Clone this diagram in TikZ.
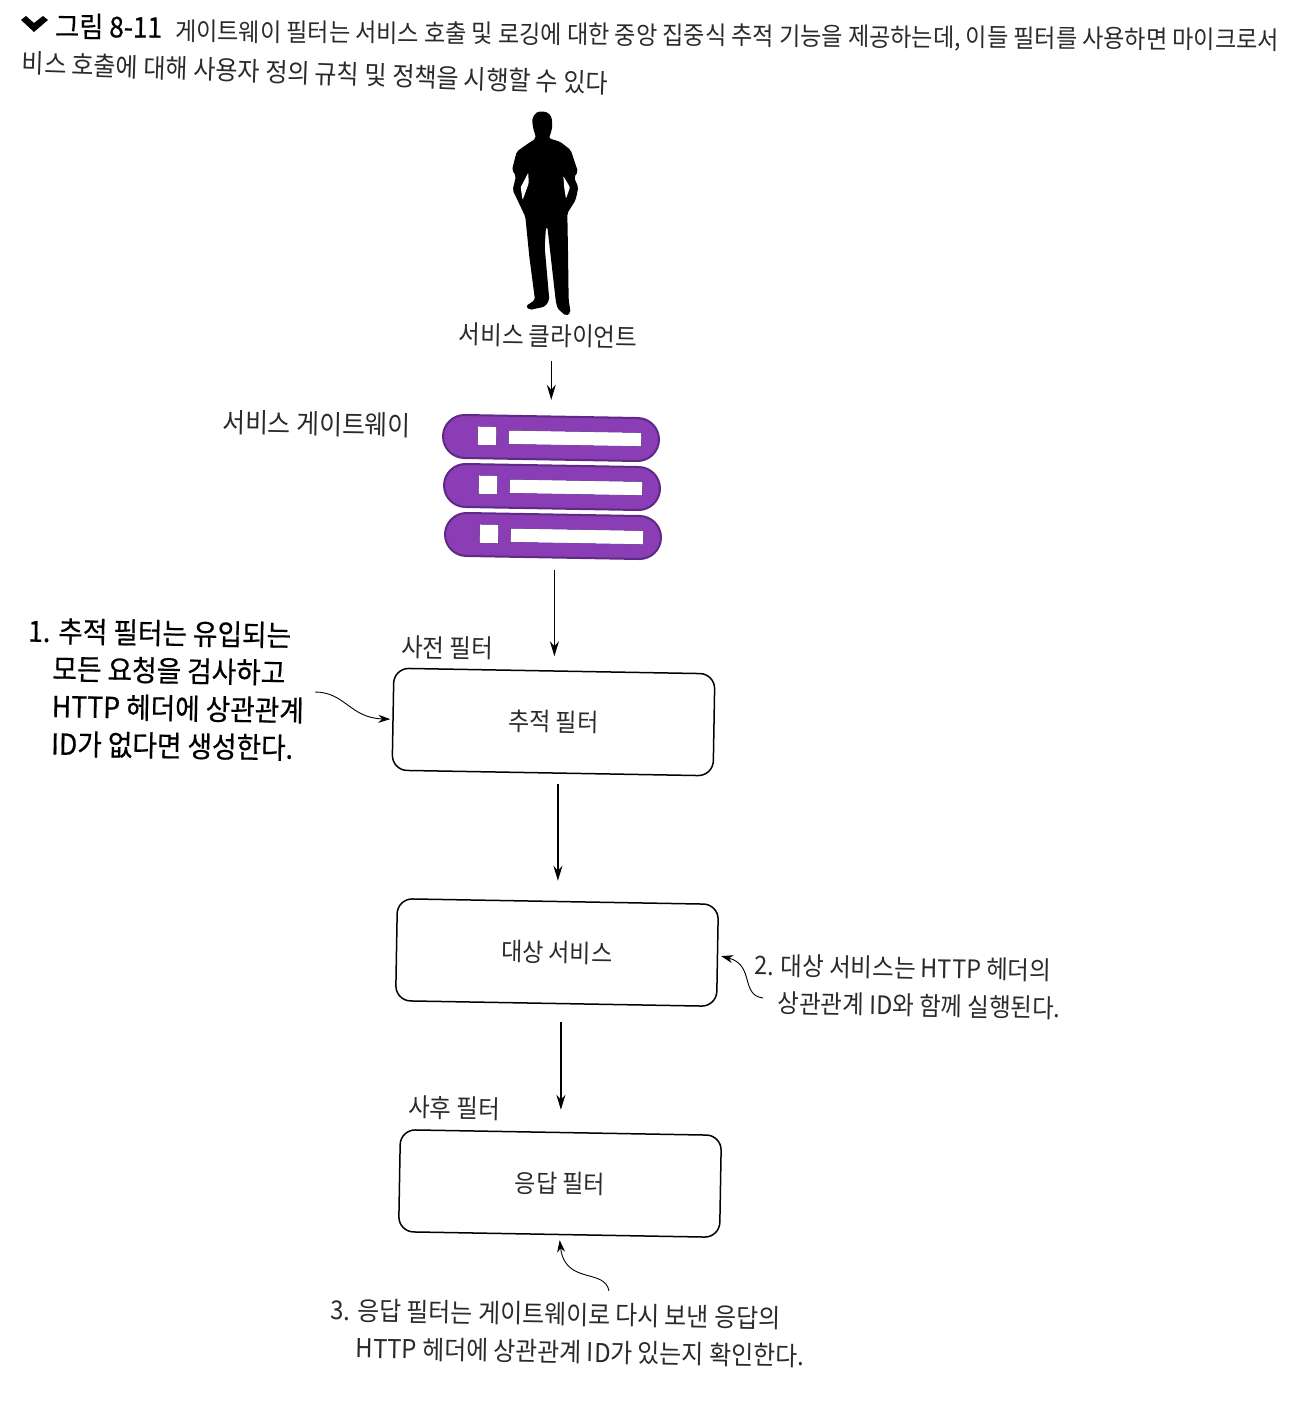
\documentclass[tikz,border=0pt]{standalone}
\usepackage{fontspec}
\setmainfont{Noto Sans CJK KR}[FakeStretch=0.92]
\newfontfamily\darkfont{Noto Sans CJK KR}[FakeStretch=0.92,FakeBold=0.5]
\usetikzlibrary{arrows.meta,shapes.misc}
\definecolor{pillfill}{HTML}{8B3DB5}
\definecolor{pilledge}{HTML}{5E2A85}
\definecolor{inkgray}{HTML}{2A2A2A}
\begin{document}
\begin{tikzpicture}[x=1pt,y=-1pt]
        % Common styles
        \tikzstyle{filterbox}=[draw, rounded corners=15pt, line width=1.5pt, minimum width=321pt, minimum height=102pt, rotate=-1, font=\fontsize{25}{30}\selectfont, text=inkgray]
        \tikzstyle{label}=[rotate=-1, inner sep=0pt, text=inkgray, font=\fontsize{25.5}{30}\selectfont]
        \tikzstyle{note}=[rotate=-1, inner sep=0pt, align=left, anchor=west, text=inkgray, font=\fontsize{25.5}{37.5}\selectfont]
        \tikzstyle{link}=[-{Stealth[length=15pt,width=9pt]}, line width=1.2pt]
        \tikzstyle{notelink}=[-{Stealth[length=12pt,width=8pt]}, line width=0.9pt]
        \tikzstyle{pill}=[rounded rectangle, draw=pilledge, fill=pillfill, line width=2pt, minimum width=216pt, minimum height=43pt, inner sep=0pt]
        \tikzstyle{hole}=[fill=white, draw=pilledge, line width=0.5pt, inner sep=0pt]
        \useasboundingbox (0,0) rectangle (1294,1402);

        % --- Caption ---
        \fill[black] (21,20) -- (26,16) -- (34,23) -- (43,16) -- (48,20) -- (34,32) -- cycle;
        \node[label, anchor=west, rotate=0.5, text=black, font=\darkfont\fontsize{28.5}{30}\selectfont] (captionone) at (55,26) {그림 8-11};
        \node[label, anchor=west, rotate=0.55, font=\fontsize{25.1}{30}\selectfont] (captiontwo) at (175,32.5) {게이트웨이 필터는 서비스 호출 및 로깅에 대한 중앙 집중식 추적 기능을 제공하는데, 이들 필터를 사용하면 마이크로서};
        \node[label, anchor=west, rotate=-1, font=\fontsize{26.2}{30}\selectfont] (captionthree) at (22,63) {비스 호출에 대해 사용자 정의 규칙 및 정책을 시행할 수 있다};

        % --- Client ---
        \begin{scope}[shift={(420,100)}, x=0.3333pt, y=-0.3333pt]
            \fill[black, rounded corners=2pt] (387,115)
                .. controls (392,100) and (398,85) .. (396,65) .. controls (395,45) and (382,35) .. (365,35)
                .. controls (345,35) and (335,55) .. (338,72) .. controls (340,90) and (345,100) .. (348,115)
                -- (325,130) -- (290,155) -- (276,210) -- (288,228) -- (278,270) -- (298,312) -- (316,350)
                -- (328,470) -- (345,600) -- (318,618) -- (328,630) -- (375,620) -- (388,600)
                -- (374,440) -- (378,382) -- (382,380) -- (390,450) -- (407,600) -- (412,625) -- (438,648) -- (452,638)
                -- (446,600) -- (444,450) -- (442,340) -- (467,300) -- (475,262) -- (462,232) -- (474,215)
                -- (452,150) -- (420,125) -- cycle;
            \fill[white, rounded corners=1pt] (325,218) -- (326,250) -- (308,300) -- (302,262) -- cycle;
            \fill[white, rounded corners=1pt] (430,228) -- (450,262) -- (438,296) -- (433,265) -- cycle;
        \end{scope}
        \node[label] (client) at (548,336) {서비스 클라이언트};

        % --- Gateway ---
        \node[label, anchor=east, font=\fontsize{27}{30}\selectfont] (gatewaylabel) at (411,425.5) {서비스 게이트웨이};
        \node[minimum width=216pt, minimum height=146pt, rotate=-1, inner sep=0pt] (gateway) at (550,487) {};
        \foreach \i/\cx/\cy in {1/551/438, 2/552/487, 3/553/536} {
            \begin{scope}[shift={(\cx,\cy)}, rotate=-1, transform shape]
                \node[pill] (pill\i) at (0,0) {};
                \node[hole, minimum width=19pt, minimum height=19pt] (square\i) at (-64,-1) {};
                \node[hole, minimum width=133pt, minimum height=14pt] (bar\i) at (24,0) {};
            \end{scope}
        }

        % --- Filters ---
        \node[label] (prelabel) at (447,648) {사전 필터};
        \node[filterbox] (tracking) at (553.5,722) {추적 필터};
        \node[filterbox] (target) at (557,952.5) {대상 서비스};
        \node[label] (postlabel) at (454,1108) {사후 필터};
        \node[filterbox] (response) at (560,1183.5) {응답 필터};

        % Main arrows
        \draw[link, shorten <=13pt, shorten >=14pt] (gateway.north |- client.south) -- (gateway.north);
        \draw[link, shorten <=10pt, shorten >=14pt] (tracking.north |- gateway.south) -- (tracking.north);
        \draw[link, shorten <=10pt, shorten >=20pt] (target.north |- tracking.south) -- (target.north);
        \draw[link, shorten <=18pt, shorten >=22pt] (response.north |- target.south) -- (response.north);

        % --- Notes ---
        \node[note, text=black, font=\darkfont\fontsize{29}{37.5}\selectfont] (noteone) at (27,687) {1. 추적 필터는 유입되는\\\hspace*{25pt}모든 요청을 검사하고\\\hspace*{25pt}HTTP 헤더에 상관관계\\\hspace*{25pt}ID가 없다면 생성한다.};
        \node[note] (notetwo) at (754,984) {2. 대상 서비스는 HTTP 헤더의\\\hspace*{24pt}상관관계 ID와 함께 실행된다.};
        \node[note, font=\fontsize{26}{37.5}\selectfont] (notethree) at (330,1329) {3. 응답 필터는 게이트웨이로 다시 보낸 응답의\\\hspace*{26pt}HTTP 헤더에 상관관계 ID가 있는지 확인한다.};

        % Note arrows
        \coordinate (noteoneout) at (315,692);
        \coordinate (notetwoout) at (763,998);
        \coordinate (notethreeout) at (609,1291);
        \draw[notelink, shorten >=2pt] (noteoneout) .. controls (345,692) and (350,718) .. (tracking.west);
        \draw[notelink, shorten >=3pt] (notetwoout) .. controls (740,995) and (755,965) .. (target.east);
        \draw[notelink, shorten >=5pt] (notethreeout) .. controls (605,1268) and (565,1285) .. (response.south);
    \end{tikzpicture}
\end{document}
